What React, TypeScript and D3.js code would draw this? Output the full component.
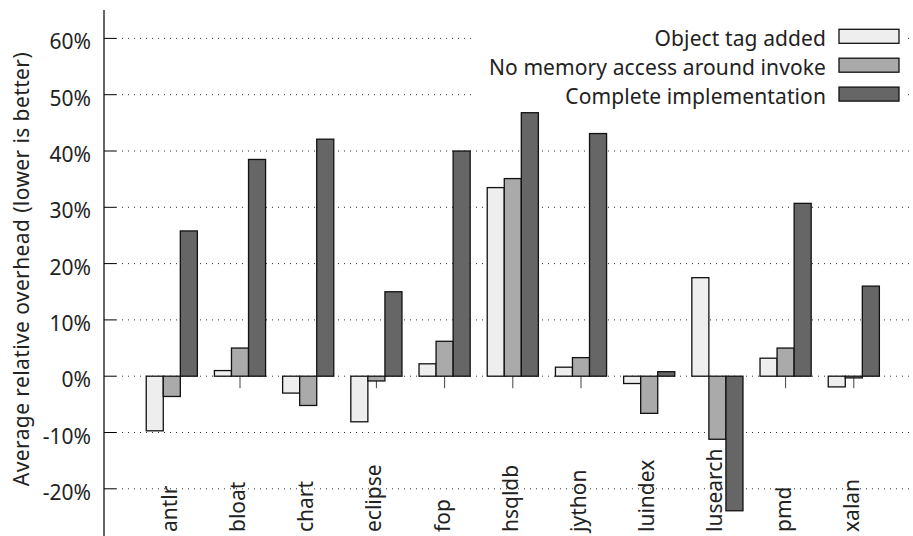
import React from "react";
import * as d3 from "d3";

const categories = ["antlr", "bloat", "chart", "eclipse", "fop", "hsqldb", "jython", "luindex", "lusearch", "pmd", "xalan"];
const tagAdded = [-9.7, 1.0, -3.0, -8.1, 2.2, 33.5, 1.6, -1.3, 17.5, 3.2, -1.9];
const noMemAccess = [-3.6, 5.0, -5.2, -0.85, 6.2, 35.1, 3.3, -6.6, -11.2, 5.0, -0.3];
const complete = [25.8, 38.5, 42.1, 15.0, 40.0, 46.8, 43.1, 0.8, -23.9, 30.7, 16.0];
const seriesNames = ["Object tag added", "No memory access around invoke", "Complete implementation"];
const seriesColors = ["#eeeeee", "#aaaaaa", "#666666"];
const yTicks = [-20, -10, 0, 10, 20, 30, 40, 50, 60];

const W = 913;
const H = 536;
const FONT = "'Noto Sans', 'Open Sans', sans-serif";

export default function App() {
  const series = [tagAdded, noMemAccess, complete];
  const x = d3.scaleLinear().domain([0, categories.length - 1]).range([171.8, 853.8]);
  const step = x(1) - x(0);
  const bw = step / 4;
  const y = d3.scaleLinear().domain([-20, 60]).range([488.8, 38.4]);
  const axisX = 104;
  const gridRight = 912;

  return (
    <svg width={W} height={H} style={{ position: "absolute", left: 0, top: 0, background: "#fff" }} fontFamily={FONT}>
      <rect x={0} y={0} width={W} height={H} fill="#fff" />
      {yTicks.map((t) => (
        <line key={"g" + t} x1={axisX + 12} x2={gridRight} y1={y(t)} y2={y(t)} stroke="#333" strokeWidth={1} strokeDasharray="1,5" />
      ))}
      <rect x={472} y={24} width={434} height={82} fill="#fff" />
      {categories.map((c, i) => (
        <line key={"xt" + c} x1={x(i)} x2={x(i)} y1={y(0)} y2={y(0) + 12} stroke="#444" strokeWidth={1} />
      ))}
      {categories.map((c, i) => (
        <g key={"b" + c}>
          {series.map((s, k) => {
            const v = s[i];
            const x0 = x(i) - 1.5 * bw + k * bw;
            const y0 = Math.min(y(v), y(0));
            const h = Math.abs(y(v) - y(0));
            return <rect key={k} x={x0} y={y0} width={bw} height={h} fill={seriesColors[k]} stroke="#111" strokeWidth={1.3} />;
          })}
        </g>
      ))}
      <line x1={axisX} x2={axisX} y1={10} y2={H} stroke="#000" strokeWidth={1.2} />
      {yTicks.map((t) => (
        <g key={"yt" + t}>
          <line x1={axisX} x2={axisX + 12} y1={y(t)} y2={y(t)} stroke="#000" strokeWidth={1} />
          <text x={91} y={y(t) + 11} textAnchor="end" fontSize={21} fill="#222">
            {t}%
          </text>
        </g>
      ))}
      {categories.map((c, i) => (
        <text key={"xl" + c} transform={`translate(${x(i) + 5},532) rotate(-90)`} textAnchor="start" fontSize={21} fill="#222">
          {c}
        </text>
      ))}
      <text transform={`translate(29,269) rotate(-90)`} textAnchor="middle" fontSize={21} letterSpacing={0.4} fill="#222">
        Average relative overhead (lower is better)
      </text>
      {seriesNames.map((n, k) => {
        const cy = 36.3 + k * 28.9;
        return (
          <g key={"lg" + k}>
            <text x={826} y={cy + 10} textAnchor="end" fontSize={21} letterSpacing={0.1} fill="#222">
              {n}
            </text>
            <rect x={839} y={cy - 7} width={60} height={14} fill={seriesColors[k]} stroke="#111" strokeWidth={1.3} />
          </g>
        );
      })}
    </svg>
  );
}
